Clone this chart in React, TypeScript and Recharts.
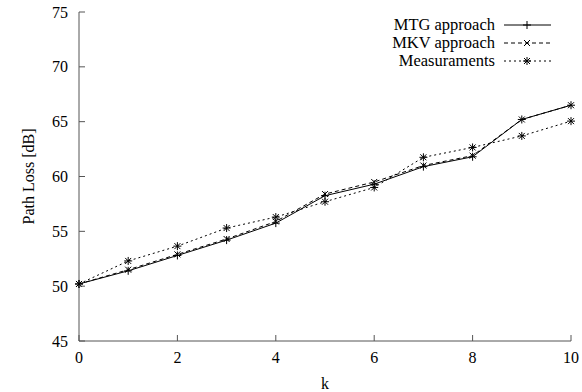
import React from 'react';
import { LineChart, Line, XAxis, YAxis, Legend, Label } from 'recharts';

const kValues = [0, 1, 2, 3, 4, 5, 6, 7, 8, 9, 10];
const mtgValues = [50.2, 51.4, 52.8, 54.2, 55.75, 58.25, 59.3, 60.9, 61.8, 65.2, 66.5];
const mkvValues = [50.2, 51.5, 52.9, 54.3, 55.9, 58.4, 59.5, 61.0, 61.9, 65.2, 66.5];
const measValues = [50.2, 52.3, 53.65, 55.3, 56.3, 57.7, 59.0, 61.75, 62.65, 63.7, 65.05];
const xTicks = [0, 2, 4, 6, 8, 10];
const yTicks = [45, 50, 55, 60, 65, 70, 75];
const seriesNames = ['MTG approach', 'MKV approach', 'Measuraments'];

const data = kValues.map((k, i) => ({ k, mtg: mtgValues[i], mkv: mkvValues[i], meas: measValues[i] }));

const FONT = '"Liberation Serif", "DejaVu Serif", serif';
const AXIS = '#555';

const PlusDot = (p: any) => {
  const { cx, cy } = p;
  if (cx == null || cy == null) return null;
  return (
    <g>
      <line x1={cx - 4} y1={cy} x2={cx + 4} y2={cy} stroke="#000" strokeWidth={1} />
      <line x1={cx} y1={cy - 4} x2={cx} y2={cy + 4} stroke="#000" strokeWidth={1} />
    </g>
  );
};
const CrossDot = (p: any) => {
  const { cx, cy } = p;
  if (cx == null || cy == null) return null;
  return (
    <g>
      <line x1={cx - 3} y1={cy - 3} x2={cx + 3} y2={cy + 3} stroke="#000" strokeWidth={1} />
      <line x1={cx - 3} y1={cy + 3} x2={cx + 3} y2={cy - 3} stroke="#000" strokeWidth={1} />
    </g>
  );
};
const StarDot = (p: any) => {
  const { cx, cy } = p;
  if (cx == null || cy == null) return null;
  return (
    <g>
      <line x1={cx - 4} y1={cy} x2={cx + 4} y2={cy} stroke="#000" strokeWidth={1} />
      <line x1={cx} y1={cy - 4} x2={cx} y2={cy + 4} stroke="#000" strokeWidth={1} />
      <line x1={cx - 3} y1={cy - 3} x2={cx + 3} y2={cy + 3} stroke="#000" strokeWidth={1} />
      <line x1={cx - 3} y1={cy + 3} x2={cx + 3} y2={cy - 3} stroke="#000" strokeWidth={1} />
    </g>
  );
};

const BottomTick = (p: any) => {
  const { x, y, payload } = p;
  return (
    <g>
      <line x1={x} y1={y} x2={x} y2={y - 6} stroke={AXIS} strokeWidth={1} />
      <text x={x} y={y + 22} textAnchor="middle" fontFamily={FONT} fontSize={16} fill="#000">
        {payload.value}
      </text>
    </g>
  );
};
const TopTick = (p: any) => {
  const { x, y } = p;
  return <line x1={x} y1={y} x2={x} y2={y + 6} stroke={AXIS} strokeWidth={1} />;
};
const LeftTick = (p: any) => {
  const { x, y, payload } = p;
  return (
    <g>
      <line x1={x} y1={y} x2={x + 6} y2={y} stroke={AXIS} strokeWidth={1} />
      <text x={x - 11} y={y + 5.5} textAnchor="end" fontFamily={FONT} fontSize={16} fill="#000">
        {payload.value}
      </text>
    </g>
  );
};
const RightTick = (p: any) => {
  const { x, y } = p;
  return <line x1={x} y1={y} x2={x - 6} y2={y} stroke={AXIS} strokeWidth={1} />;
};

const legendStyles = [
  { dash: undefined, Dot: PlusDot },
  { dash: '4 3', Dot: CrossDot },
  { dash: '2 3', Dot: StarDot },
];

const LegendContent = () => (
  <div style={{ fontFamily: FONT, fontSize: 16.5, color: '#000' }}>
    {seriesNames.map((name, i) => {
      const S = legendStyles[i].Dot;
      return (
        <div key={name} style={{ display: 'flex', alignItems: 'center', justifyContent: 'flex-end', height: 18, lineHeight: '18px' }}>
          <span style={{ whiteSpace: 'nowrap' }}>{name}</span>
          <svg width={50} height={18} style={{ marginLeft: 8 }}>
            <line x1={1} y1={9} x2={48} y2={9} stroke="#000" strokeWidth={1} strokeDasharray={legendStyles[i].dash} />
            <S cx={24} cy={9} />
          </svg>
        </div>
      );
    })}
  </div>
);

export default function App() {
  return (
    <div style={{ position: 'absolute', left: 0, top: 0, background: '#fff' }}>
      <LineChart width={582} height={392} data={data} margin={{ top: 12, right: 11, bottom: 0, left: 0 }}>
        <XAxis
          dataKey="k"
          type="number"
          domain={[0, 10]}
          ticks={xTicks}
          height={51}
          tickSize={0}
          tickMargin={0}
          tickLine={false}
          tick={<BottomTick />}
          axisLine={{ stroke: AXIS, strokeWidth: 1 }}
          interval={0}
        >
          <Label value="k" position="insideBottom" offset={3} style={{ fontFamily: FONT, fontSize: 16, fill: '#000' }} />
        </XAxis>
        <XAxis
          xAxisId="top"
          orientation="top"
          dataKey="k"
          type="number"
          domain={[0, 10]}
          ticks={xTicks}
          height={0}
          tickSize={0}
          tickMargin={0}
          tickLine={false}
          tick={<TopTick />}
          axisLine={{ stroke: AXIS, strokeWidth: 1 }}
          interval={0}
        />
        <YAxis
          type="number"
          domain={[45, 75]}
          ticks={yTicks}
          width={79}
          tickSize={0}
          tickMargin={0}
          tickLine={false}
          tick={<LeftTick />}
          axisLine={{ stroke: AXIS, strokeWidth: 1 }}
          interval={0}
        >
          <Label
            content={(props: any) => {
              const vb = props.viewBox || { x: 0, y: 12, height: 329 };
              const cx = 28;
              const cy = vb.y + vb.height / 2;
              return (
                <text x={cx} y={cy} transform={`rotate(-90, ${cx}, ${cy})`} textAnchor="middle" dominantBaseline="central" fontFamily={FONT} fontSize={16} fill="#000">
                  Path Loss [dB]
                </text>
              );
            }}
          />
        </YAxis>
        <YAxis
          yAxisId="right"
          orientation="right"
          type="number"
          domain={[45, 75]}
          ticks={yTicks}
          width={0}
          tickSize={0}
          tickMargin={0}
          tickLine={false}
          tick={<RightTick />}
          axisLine={{ stroke: AXIS, strokeWidth: 1 }}
          interval={0}
        />
        <Legend
          layout="horizontal"
          verticalAlign="middle"
          align="center"
          content={<LegendContent />}
          wrapperStyle={{ position: 'absolute', top: 16, left: 'auto', right: 29, width: 260, height: 60 }}
        />
        <Line type="linear" dataKey="mtg" name={seriesNames[0]} stroke="#000" strokeWidth={1} dot={<PlusDot />} activeDot={false} isAnimationActive={false} />
        <Line type="linear" dataKey="mkv" name={seriesNames[1]} stroke="#000" strokeWidth={1} strokeDasharray="4 3" dot={<CrossDot />} activeDot={false} isAnimationActive={false} />
        <Line type="linear" dataKey="meas" name={seriesNames[2]} stroke="#000" strokeWidth={1} strokeDasharray="2 3" dot={<StarDot />} activeDot={false} isAnimationActive={false} />
      </LineChart>
    </div>
  );
}
